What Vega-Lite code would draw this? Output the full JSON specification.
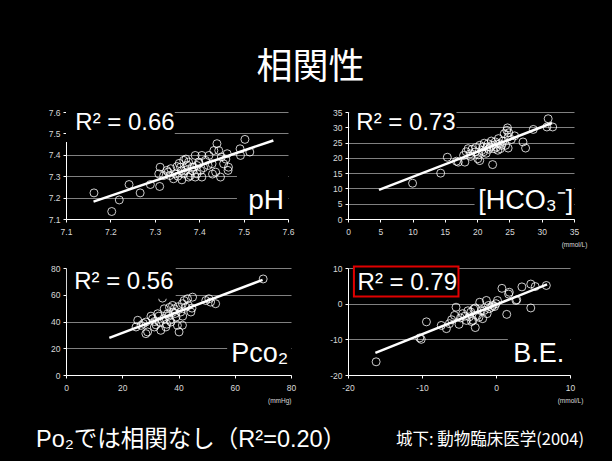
{
  "$schema": "https://vega.github.io/schema/vega-lite/v6.json",
  "background": "black",
  "padding": {"left": 36, "top": 49, "right": 60, "bottom": 30},
  "title": {"text": "相関性", "fontSize": 36, "font": "Noto Sans CJK JP", "fontWeight": "normal", "color": "white", "anchor": "middle", "offset": 21.5, "dx": -1},
  "config": {
    "view": {"stroke": null},
    "locale": {"number": {"decimal": ".", "thousands": ",", "grouping": [3], "currency": ["$", ""], "minus": "-"}},
    "axis": {"domainColor": "white", "domainWidth": 1, "tickColor": "white", "tickSize": 3, "labelColor": "#d9d9d9", "labelFontSize": 8.5, "labelFont": "Liberation Sans", "gridColor": "#808080", "gridWidth": 1, "titleColor": "#d9d9d9", "titleFont": "Liberation Sans", "titleFontSize": 6.5, "titleFontWeight": "normal", "labelFlush": false, "labelOverlap": false},
    "axisX": {"labelPadding": 5, "titleAnchor": "end", "titleAlign": "center", "titlePadding": 6, "grid": false},
    "axisY": {"labelPadding": 3, "grid": true}
  },
  "datasets": {
    "ph": [
      {"x": 7.163, "y": 7.222}, {"x": 7.203, "y": 7.135}, {"x": 7.220, "y": 7.189}, {"x": 7.242, "y": 7.261}, {"x": 7.267, "y": 7.222},
      {"x": 7.290, "y": 7.261}, {"x": 7.311, "y": 7.252}, {"x": 7.312, "y": 7.342}, {"x": 7.309, "y": 7.311}, {"x": 7.320, "y": 7.303},
      {"x": 7.327, "y": 7.327}, {"x": 7.330, "y": 7.319}, {"x": 7.334, "y": 7.303}, {"x": 7.336, "y": 7.335}, {"x": 7.342, "y": 7.288},
      {"x": 7.346, "y": 7.311}, {"x": 7.350, "y": 7.345}, {"x": 7.352, "y": 7.300}, {"x": 7.355, "y": 7.360}, {"x": 7.358, "y": 7.342},
      {"x": 7.360, "y": 7.325}, {"x": 7.361, "y": 7.283}, {"x": 7.365, "y": 7.374}, {"x": 7.365, "y": 7.311}, {"x": 7.369, "y": 7.327},
      {"x": 7.370, "y": 7.380}, {"x": 7.373, "y": 7.352}, {"x": 7.376, "y": 7.366}, {"x": 7.376, "y": 7.296}, {"x": 7.380, "y": 7.303},
      {"x": 7.384, "y": 7.342}, {"x": 7.385, "y": 7.325}, {"x": 7.388, "y": 7.342}, {"x": 7.391, "y": 7.397}, {"x": 7.391, "y": 7.296},
      {"x": 7.395, "y": 7.311}, {"x": 7.395, "y": 7.350}, {"x": 7.399, "y": 7.366}, {"x": 7.400, "y": 7.360}, {"x": 7.403, "y": 7.327},
      {"x": 7.406, "y": 7.397}, {"x": 7.406, "y": 7.296}, {"x": 7.410, "y": 7.340}, {"x": 7.414, "y": 7.374}, {"x": 7.420, "y": 7.350},
      {"x": 7.422, "y": 7.397}, {"x": 7.429, "y": 7.358}, {"x": 7.430, "y": 7.310}, {"x": 7.433, "y": 7.420}, {"x": 7.437, "y": 7.319},
      {"x": 7.440, "y": 7.452}, {"x": 7.444, "y": 7.420}, {"x": 7.448, "y": 7.296}, {"x": 7.450, "y": 7.390}, {"x": 7.455, "y": 7.358},
      {"x": 7.460, "y": 7.380}, {"x": 7.463, "y": 7.405}, {"x": 7.465, "y": 7.327}, {"x": 7.466, "y": 7.342}, {"x": 7.492, "y": 7.428},
      {"x": 7.493, "y": 7.397}, {"x": 7.503, "y": 7.472}, {"x": 7.514, "y": 7.413}
    ],
    "ph_line": [{"x": 7.162, "y": 7.181}, {"x": 7.567, "y": 7.467}],
    "hco3": [
      {"x": 10.0, "y": 11.7}, {"x": 14.35, "y": 15.0}, {"x": 15.38, "y": 20.2}, {"x": 16.8, "y": 18.9}, {"x": 17.08, "y": 18.6},
      {"x": 17.9, "y": 20.8}, {"x": 18.1, "y": 18.6}, {"x": 18.3, "y": 22.0}, {"x": 18.6, "y": 23.0}, {"x": 18.9, "y": 21.3},
      {"x": 19.0, "y": 20.5}, {"x": 19.2, "y": 22.8}, {"x": 19.7, "y": 21.9}, {"x": 19.8, "y": 23.4}, {"x": 20.1, "y": 19.7},
      {"x": 20.2, "y": 21.0}, {"x": 20.4, "y": 19.1}, {"x": 20.4, "y": 24.1}, {"x": 20.7, "y": 22.4}, {"x": 20.9, "y": 23.6},
      {"x": 21.0, "y": 22.0}, {"x": 21.1, "y": 24.8}, {"x": 21.4, "y": 21.5}, {"x": 21.5, "y": 23.5}, {"x": 21.7, "y": 24.6},
      {"x": 21.8, "y": 22.8}, {"x": 22.0, "y": 23.5}, {"x": 22.2, "y": 25.5}, {"x": 22.3, "y": 24.1}, {"x": 22.4, "y": 17.8},
      {"x": 22.6, "y": 23.0}, {"x": 22.8, "y": 25.2}, {"x": 23.0, "y": 23.5}, {"x": 23.0, "y": 24.5}, {"x": 23.2, "y": 22.5},
      {"x": 23.3, "y": 26.3}, {"x": 23.5, "y": 24.6}, {"x": 23.6, "y": 23.0}, {"x": 23.8, "y": 24.1}, {"x": 24.0, "y": 25.5},
      {"x": 24.2, "y": 27.9}, {"x": 24.4, "y": 24.1}, {"x": 24.6, "y": 29.0}, {"x": 24.7, "y": 29.8}, {"x": 24.8, "y": 26.8},
      {"x": 24.8, "y": 23.2}, {"x": 24.9, "y": 28.2}, {"x": 25.3, "y": 26.0}, {"x": 25.8, "y": 27.2}, {"x": 27.1, "y": 25.2},
      {"x": 27.5, "y": 23.2}, {"x": 28.7, "y": 29.3}, {"x": 30.8, "y": 30.1}, {"x": 31.0, "y": 32.8}, {"x": 31.7, "y": 30.1}
    ],
    "hco3_line": [{"x": 4.8, "y": 9.5}, {"x": 31.6, "y": 31.4}],
    "pco2": [
      {"x": 24.9, "y": 35.9}, {"x": 25.5, "y": 40.9}, {"x": 26.7, "y": 37.1}, {"x": 27.5, "y": 38.5}, {"x": 28.4, "y": 39.6},
      {"x": 28.4, "y": 30.9}, {"x": 29.0, "y": 32.2}, {"x": 30.2, "y": 44.0}, {"x": 30.8, "y": 42.1}, {"x": 31.4, "y": 35.9},
      {"x": 31.5, "y": 40.0}, {"x": 32.0, "y": 37.5}, {"x": 32.6, "y": 45.8}, {"x": 33.0, "y": 44.0}, {"x": 33.2, "y": 39.6},
      {"x": 33.7, "y": 33.4}, {"x": 34.3, "y": 57.5}, {"x": 34.9, "y": 49.5}, {"x": 34.9, "y": 42.1}, {"x": 35.5, "y": 35.9},
      {"x": 35.8, "y": 38.0}, {"x": 36.1, "y": 45.8}, {"x": 36.5, "y": 44.0}, {"x": 36.8, "y": 50.5}, {"x": 37.0, "y": 41.0},
      {"x": 37.3, "y": 39.6}, {"x": 37.9, "y": 52.0}, {"x": 38.0, "y": 47.0}, {"x": 38.5, "y": 49.5}, {"x": 38.8, "y": 46.0},
      {"x": 39.1, "y": 43.3}, {"x": 39.6, "y": 37.1}, {"x": 39.8, "y": 51.0}, {"x": 40.2, "y": 32.2}, {"x": 40.8, "y": 47.1},
      {"x": 41.4, "y": 53.3}, {"x": 41.4, "y": 37.2}, {"x": 41.5, "y": 44.0}, {"x": 42.0, "y": 55.7}, {"x": 42.6, "y": 50.8},
      {"x": 43.2, "y": 57.0}, {"x": 43.5, "y": 52.0}, {"x": 44.4, "y": 47.1}, {"x": 44.8, "y": 50.0}, {"x": 45.0, "y": 58.2},
      {"x": 49.7, "y": 55.7}, {"x": 50.8, "y": 57.0}, {"x": 51.4, "y": 54.5}, {"x": 53.2, "y": 53.3}, {"x": 70.1, "y": 71.8}
    ],
    "pco2_line": [{"x": 15.4, "y": 27.7}, {"x": 69.9, "y": 71.1}],
    "be": [
      {"x": -16.2, "y": -16.3}, {"x": -10.3, "y": -9.6}, {"x": -10.1, "y": -10.0}, {"x": -9.4, "y": -5.1}, {"x": -7.4, "y": -6.1},
      {"x": -6.7, "y": -7.0}, {"x": -6.3, "y": -5.6}, {"x": -6.0, "y": -4.5}, {"x": -5.6, "y": -3.3}, {"x": -5.4, "y": -1.0},
      {"x": -5.0, "y": -5.8}, {"x": -4.8, "y": -4.0}, {"x": -4.5, "y": -2.8}, {"x": -4.2, "y": -3.5}, {"x": -4.0, "y": -4.7},
      {"x": -3.8, "y": -2.0}, {"x": -3.6, "y": -3.7}, {"x": -3.4, "y": -2.35}, {"x": -3.3, "y": -5.0}, {"x": -3.1, "y": -4.7},
      {"x": -3.0, "y": -1.5}, {"x": -2.8, "y": -6.7}, {"x": -2.8, "y": -1.2}, {"x": -2.5, "y": -3.3}, {"x": -2.3, "y": -3.8},
      {"x": -2.2, "y": 0.4}, {"x": -2.0, "y": -2.0}, {"x": -1.8, "y": -4.2}, {"x": -1.6, "y": -1.9}, {"x": -1.3, "y": 0.9},
      {"x": -1.2, "y": -2.8}, {"x": -1.0, "y": -0.5}, {"x": -0.9, "y": -1.4}, {"x": -0.6, "y": -1.0}, {"x": -0.4, "y": -0.5},
      {"x": -0.2, "y": -0.8}, {"x": 0.0, "y": 0.0}, {"x": 0.2, "y": 0.9}, {"x": 0.8, "y": 4.3}, {"x": 1.45, "y": -3.0},
      {"x": 1.7, "y": 2.7}, {"x": 1.8, "y": 3.2}, {"x": 2.7, "y": 0.9}, {"x": 2.8, "y": 1.1}, {"x": 3.5, "y": 4.7},
      {"x": 4.7, "y": 5.5}, {"x": 4.7, "y": -1.2}, {"x": 5.3, "y": 4.8}, {"x": 6.8, "y": 5.1}
    ],
    "be_line": [{"x": -16.3, "y": -13.8}, {"x": 6.9, "y": 5.4}],
    "one": [{}]
  },
  "columns": 2,
  "align": "none",
  "bounds": "flush",
  "spacing": {"row": 49, "column": 57},
  "concat": [
    {
      "width": 222, "height": 107,
      "layer": [
        {"data": {"name": "ph"}, "mark": {"type": "point", "shape": "circle", "filled": false, "stroke": "white", "strokeWidth": 0.8, "size": 64, "opacity": 1},
         "encoding": {
           "x": {"field": "x", "type": "quantitative", "scale": {"domain": [7.1, 7.6], "nice": false, "zero": false}, "axis": {"values": [7.1, 7.2, 7.3, 7.4, 7.5, 7.6], "tickCount": 20, "format": ".1f", "title": null}},
           "y": {"field": "y", "type": "quantitative", "scale": {"domain": [7.1, 7.6], "nice": false, "zero": false}, "axis": {"values": [7.1, 7.2, 7.3, 7.4, 7.5, 7.6], "tickCount": 20, "format": ".1f", "title": null}}
         }},
        {"data": {"name": "ph_line"}, "mark": {"type": "line", "color": "white", "strokeWidth": 2.5},
         "encoding": {"x": {"field": "x", "type": "quantitative"}, "y": {"field": "y", "type": "quantitative"}}},
        {"data": {"name": "one"}, "mark": {"type": "rect", "fill": "black"},
         "encoding": {"x": {"datum": 7.1}, "x2": {"datum": 7.345}, "y": {"datum": 7.6}, "y2": {"datum": 7.46}}},
        {"data": {"name": "one"}, "mark": {"type": "rect", "fill": "black"},
         "encoding": {"x": {"datum": 7.485}, "x2": {"datum": 7.6}, "y": {"datum": 7.36}, "y2": {"datum": 7.1}}},
        {"data": {"name": "one"}, "mark": {"type": "text", "align": "left", "baseline": "alphabetic", "fontSize": 24, "color": "white", "font": "Liberation Sans"},
         "encoding": {"x": {"datum": 7.121}, "y": {"datum": 7.514}, "text": {"value": "R² = 0.66"}}},
        {"data": {"name": "one"}, "mark": {"type": "text", "align": "right", "baseline": "alphabetic", "fontSize": 28, "color": "white", "font": "Liberation Sans"},
         "encoding": {"x": {"datum": 7.591}, "y": {"datum": 7.147}, "text": {"value": "pH"}}}
      ]
    },
    {
      "width": 226, "height": 107,
      "layer": [
        {"data": {"name": "hco3"}, "mark": {"type": "point", "shape": "circle", "filled": false, "stroke": "white", "strokeWidth": 0.8, "size": 64, "opacity": 1},
         "encoding": {
           "x": {"field": "x", "type": "quantitative", "scale": {"domain": [0, 35], "nice": false}, "axis": {"values": [0, 5, 10, 15, 20, 25, 30, 35], "tickCount": 20, "title": "(mmol/L)"}},
           "y": {"field": "y", "type": "quantitative", "scale": {"domain": [0, 35], "nice": false}, "axis": {"values": [0, 5, 10, 15, 20, 25, 30, 35], "tickCount": 20, "title": null}}
         }},
        {"data": {"name": "hco3_line"}, "mark": {"type": "line", "color": "white", "strokeWidth": 2.5},
         "encoding": {"x": {"field": "x", "type": "quantitative"}, "y": {"field": "y", "type": "quantitative"}}},
        {"data": {"name": "one"}, "mark": {"type": "rect", "fill": "black"},
         "encoding": {"x": {"datum": 0.2}, "x2": {"datum": 16.8}, "y": {"datum": 35}, "y2": {"datum": 27}}},
        {"data": {"name": "one"}, "mark": {"type": "rect", "fill": "black"},
         "encoding": {"x": {"datum": 19.6}, "x2": {"datum": 35}, "y": {"datum": 12.5}, "y2": {"datum": 0.2}}},
        {"data": {"name": "one"}, "mark": {"type": "text", "align": "left", "baseline": "alphabetic", "fontSize": 24, "color": "white", "font": "Liberation Sans"},
         "encoding": {"x": {"datum": 1.29}, "y": {"datum": 29.0}, "text": {"value": "R² = 0.73"}}},
        {"data": {"name": "one"}, "mark": {"type": "text", "align": "right", "baseline": "alphabetic", "fontSize": 27, "color": "white", "font": "Liberation Sans"},
         "encoding": {"x": {"datum": 34.9}, "y": {"datum": 3.3}, "text": {"value": "[HCO₃⁻]"}}}
      ]
    },
    {
      "width": 225, "height": 107,
      "title": {"text": "Po₂では相関なし（R²=0.20）", "orient": "bottom", "anchor": "start", "frame": "group", "dx": -30, "offset": 24, "fontSize": 23.5, "font": "Liberation Sans, Noto Sans CJK JP", "fontWeight": "normal", "color": "white"},
      "layer": [
        {"data": {"name": "pco2"}, "mark": {"type": "point", "shape": "circle", "filled": false, "stroke": "white", "strokeWidth": 0.8, "size": 64, "opacity": 1},
         "encoding": {
           "x": {"field": "x", "type": "quantitative", "scale": {"domain": [0, 80], "nice": false}, "axis": {"values": [0, 20, 40, 60, 80], "tickCount": 20, "title": "(mmHg)", "titleAlign": "right"}},
           "y": {"field": "y", "type": "quantitative", "scale": {"domain": [0, 80], "nice": false}, "axis": {"values": [0, 20, 40, 60, 80], "tickCount": 20, "title": null}}
         }},
        {"data": {"name": "pco2_line"}, "mark": {"type": "line", "color": "white", "strokeWidth": 2.5},
         "encoding": {"x": {"field": "x", "type": "quantitative"}, "y": {"field": "y", "type": "quantitative"}}},
        {"data": {"name": "one"}, "mark": {"type": "rect", "fill": "black"},
         "encoding": {"x": {"datum": 0.3}, "x2": {"datum": 39}, "y": {"datum": 80}, "y2": {"datum": 57}}},
        {"data": {"name": "one"}, "mark": {"type": "rect", "fill": "black"},
         "encoding": {"x": {"datum": 57.3}, "x2": {"datum": 80}, "y": {"datum": 30}, "y2": {"datum": 0.3}}},
        {"data": {"name": "one"}, "mark": {"type": "text", "align": "left", "baseline": "alphabetic", "fontSize": 24, "color": "white", "font": "Liberation Sans"},
         "encoding": {"x": {"datum": 2.9}, "y": {"datum": 64.4}, "text": {"value": "R² = 0.56"}}},
        {"data": {"name": "one"}, "mark": {"type": "text", "align": "right", "baseline": "alphabetic", "fontSize": 27, "color": "white", "font": "Liberation Sans"},
         "encoding": {"x": {"datum": 79.0}, "y": {"datum": 9.9}, "text": {"value": "Pco₂"}}}
      ]
    },
    {
      "width": 222, "height": 107,
      "title": {"text": "城下: 動物臨床医学(2004)", "orient": "bottom", "anchor": "end", "frame": "group", "dx": 14, "offset": 28, "fontSize": 16.5, "font": "Noto Sans CJK JP", "fontWeight": "normal", "color": "white"},
      "layer": [
        {"data": {"name": "be"}, "mark": {"type": "point", "shape": "circle", "filled": false, "stroke": "white", "strokeWidth": 0.8, "size": 64, "opacity": 1},
         "encoding": {
           "x": {"field": "x", "type": "quantitative", "scale": {"domain": [-20, 10], "nice": false}, "axis": {"values": [-20, -10, 0, 10], "tickCount": 20, "title": "(mmol/L)"}},
           "y": {"field": "y", "type": "quantitative", "scale": {"domain": [-20, 10], "nice": false}, "axis": {"values": [-20, -10, 0, 10], "tickCount": 20, "title": null}}
         }},
        {"data": {"name": "be_line"}, "mark": {"type": "line", "color": "white", "strokeWidth": 2.5},
         "encoding": {"x": {"field": "x", "type": "quantitative"}, "y": {"field": "y", "type": "quantitative"}}},
        {"data": {"name": "one"}, "mark": {"type": "rect", "fill": "black", "stroke": "#e00000", "strokeWidth": 2},
         "encoding": {"x": {"datum": -19.2}, "x2": {"datum": -5.07}, "y": {"datum": 10.4}, "y2": {"datum": 2.03}}},
        {"data": {"name": "one"}, "mark": {"type": "rect", "fill": "black"},
         "encoding": {"x": {"datum": 1.6}, "x2": {"datum": 10}, "y": {"datum": -6}, "y2": {"datum": -19.9}}},
        {"data": {"name": "one"}, "mark": {"type": "text", "align": "left", "baseline": "alphabetic", "fontSize": 24, "color": "white", "font": "Liberation Sans"},
         "encoding": {"x": {"datum": -18.7}, "y": {"datum": 3.7}, "text": {"value": "R² = 0.79"}}},
        {"data": {"name": "one"}, "mark": {"type": "text", "align": "right", "baseline": "alphabetic", "fontSize": 27, "color": "white", "font": "Liberation Sans"},
         "encoding": {"x": {"datum": 9.23}, "y": {"datum": -16.3}, "text": {"value": "B.E."}}}
      ]
    }
  ]
}
